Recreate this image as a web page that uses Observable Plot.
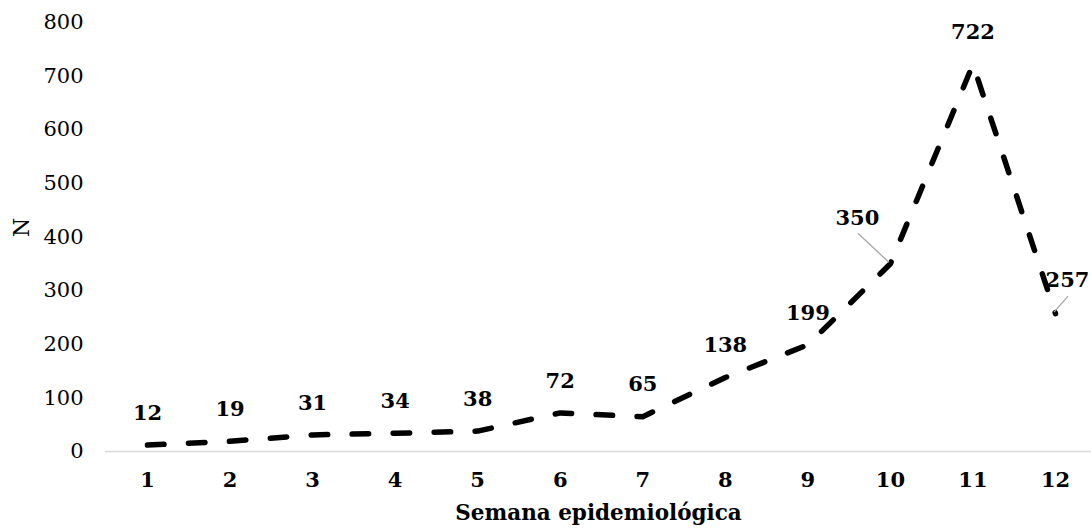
<!DOCTYPE html>
<html>
<head>
<meta charset="utf-8">
<script src="https://cdn.jsdelivr.net/npm/d3@7"></script>
<script src="https://cdn.jsdelivr.net/npm/@observablehq/plot@0.6"></script>
<style>
  html, body { margin: 0; padding: 0; background: #fff; }
  #chart svg { display: block; }
</style>
</head>
<body>
<div id="chart"></div>
<script>
const weeks = [1, 2, 3, 4, 5, 6, 7, 8, 9, 10, 11, 12];
const cases = [12, 19, 31, 34, 38, 72, 65, 138, 199, 350, 722, 257];
const yTicks = [0, 100, 200, 300, 400, 500, 600, 700, 800];
const xTitle = "Semana epidemiológica";
const yTitle = "N";

const data = weeks.map((w, i) => ({week: w, n: cases[i]}));

// label placement (styling): default sits above the point; two use leader lines
const labelOffset = (d) => {
  if (d.week === 10) return {dx: -33, dy: -46};
  if (d.week === 12) return {dx: 12, dy: -33};
  return {dx: 0, dy: -32};
};
const leaderFrom = {10: [-32, -30], 12: [13, -17]};

const font = "'DejaVu Serif', serif";

const leaderMark = (index, scales) => {
  const g = d3.create("svg:g").attr("stroke", "#a6a6a6").attr("stroke-width", 1.3);
  for (const d of data) {
    const f = leaderFrom[d.week];
    if (!f) continue;
    const px = scales.x(d.week), py = scales.y(d.n);
    g.append("line")
      .attr("x1", px + f[0]).attr("y1", py + f[1])
      .attr("x2", px - 1).attr("y2", py - 1);
  }
  return g.node();
};

const labelMarks = data.map(d => {
  const o = labelOffset(d);
  return Plot.text([d], {
    x: "week", y: "n", text: d => String(d.n),
    dx: o.dx, dy: o.dy,
    fontWeight: "bold", fontSize: 21, fill: "#000", fontFamily: font
  });
});

const plot = Plot.plot({
  width: 1091,
  height: 531,
  marginLeft: 105,
  marginRight: 0,
  marginTop: 22,
  marginBottom: 80,
  style: {fontFamily: font, background: "#fff", color: "#000", overflow: "visible"},
  x: {type: "linear", domain: [1, 12], range: [147, 1055]},
  y: {domain: [0, 800], range: [451, 22]},
  marks: [
    Plot.ruleY([0], {stroke: "#d9d9d9", strokeWidth: 1.5}),
    Plot.axisY({
      ticks: yTicks, tickSize: 0, tickPadding: 22, fontSize: 21, label: null
    }),
    Plot.text([yTitle], {
      text: d => d, frameAnchor: "left", dx: -84, rotate: -90,
      fontSize: 22, fill: "#000", fontFamily: font
    }),
    Plot.axisX({
      ticks: weeks, tickFormat: d => String(d), tickSize: 0, tickPadding: 21,
      fontSize: 21, fontWeight: "bold",
      label: xTitle, labelAnchor: "center", labelArrow: "none", labelOffset: 68
    }),
    Plot.line(data, {
      x: "week", y: "n", curve: "linear",
      stroke: "#000", strokeWidth: 5.5,
      strokeDasharray: "16.5,24.5", strokeLinecap: "round", strokeLinejoin: "round"
    }),
    leaderMark,
    ...labelMarks
  ]
});

document.getElementById("chart").appendChild(plot);
// style x axis title
plot.querySelectorAll("[aria-label='x-axis label'] text").forEach(t => {
  t.setAttribute("font-weight", "bold");
  t.setAttribute("font-size", "21.5");
});
</script>
</body>
</html>
